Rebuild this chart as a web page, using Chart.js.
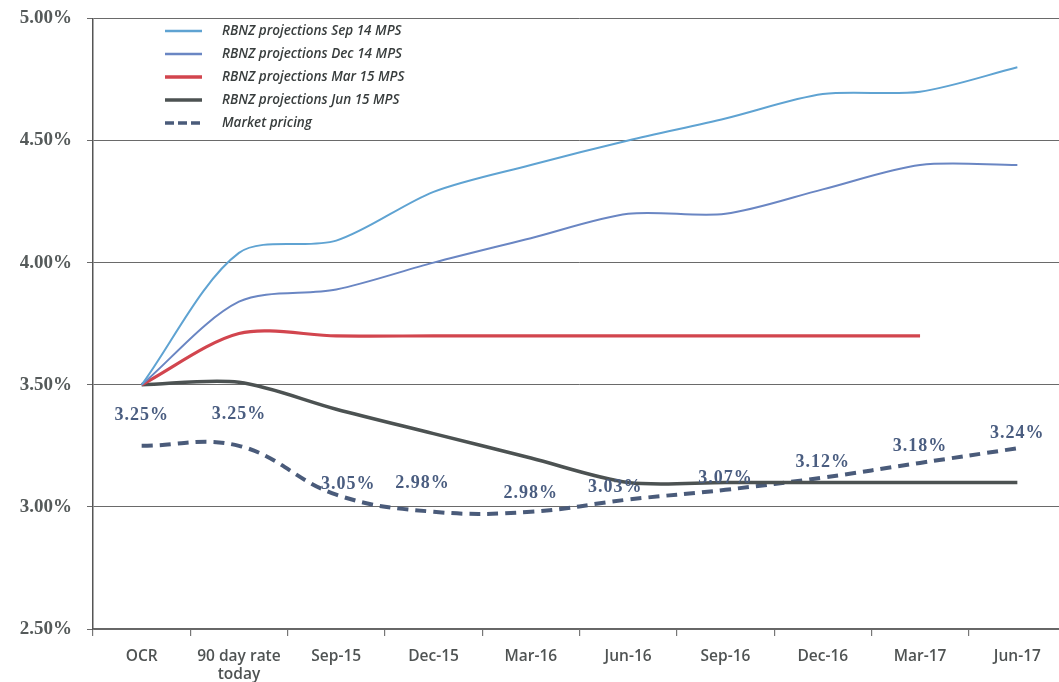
<!DOCTYPE html>
<html>
<head>
    <title>RBNZ projections vs market pricing</title>
    <style>
        html, body { margin: 0; padding: 0; background: #fff; overflow: hidden; }
        #wrap { position: relative; width: 1072px; height: 690px; margin-top: -8px; }
    </style>
    <script src="https://cdn.jsdelivr.net/npm/chart.js"></script>
</head>
<body>
    <div id="wrap"><canvas id="chart"></canvas></div>

    <script>
        // categories along the bottom
        var categories = ['OCR', ['90 day rate', 'today'], 'Sep-15', 'Dec-15', 'Mar-16', 'Jun-16', 'Sep-16', 'Dec-16', 'Mar-17', 'Jun-17'];

        // series values (%)
        var sep14 = [3.50, 4.04, 4.09, 4.29, 4.40, 4.50, 4.59, 4.69, 4.70, 4.80];
        var dec14 = [3.50, 3.84, 3.89, 4.00, 4.10, 4.20, 4.20, 4.30, 4.40, 4.40];
        var mar15 = [3.50, 3.71, 3.70, 3.70, 3.70, 3.70, 3.70, 3.70, 3.70, null];
        var jun15 = [3.50, 3.51, 3.40, 3.30, 3.20, 3.10, 3.10, 3.10, 3.10, 3.10];
        var market = [3.25, 3.25, 3.05, 2.98, 2.98, 3.03, 3.07, 3.12, 3.18, 3.24];

        var seriesNames = ['RBNZ projections Sep 14 MPS', 'RBNZ projections Dec 14 MPS', 'RBNZ projections Mar 15 MPS', 'RBNZ projections Jun 15 MPS', 'Market pricing'];
        var yTicks = [2.5, 3.0, 3.5, 4.0, 4.5, 5.0];

        var colours = ['#5fa3d2', '#6a86c3', '#d2454e', '#4c5252', '#4a5b7a'];
        var widths = [2, 2, 3.2, 3.5, 4];

        // where each market label sits relative to its point (dx, dy) - layout only
        var labelShift = [[0, -30], [0, -31], [12, -10], [-11, -28], [0, -18], [-13, -12], [0, -11], [0, -15], [0, -17], [0, -15]];

        function mkSet(i, data, dashed, tension) {
            return {
                label: seriesNames[i],
                data: data,
                borderColor: colours[i],
                backgroundColor: colours[i],
                borderWidth: widths[i],
                borderDash: dashed ? [11, 7] : [],
                pointRadius: 0,
                fill: false,
                tension: tension,
                spanGaps: false
            };
        }

        var marketLabels = {
            id: 'marketLabels',
            afterDatasetsDraw: function(chart) {
                var ctx = chart.ctx;
                var meta = chart.getDatasetMeta(4);
                ctx.save();
                ctx.font = 'bold 18px "Liberation Serif"';
                ctx.letterSpacing = '1px';
                ctx.fillStyle = '#4a5d80';
                ctx.textAlign = 'center';
                ctx.textBaseline = 'middle';
                meta.data.forEach(function(pt, i) {
                    ctx.fillText(market[i].toFixed(2) + '%', pt.x + labelShift[i][0], pt.y + labelShift[i][1]);
                });
                ctx.restore();
            }
        };

        var legendBox = {
            id: 'legendBox',
            afterDraw: function(chart) {
                var ctx = chart.ctx;
                ctx.save();
                ctx.font = 'italic 600 13.5px "Open Sans"';
                ctx.fillStyle = '#383d3d';
                ctx.textBaseline = 'middle';
                for (var i = 0; i < seriesNames.length; i++) {
                    var y = 39 + i * 23;   // +8 for the canvas shift
                    ctx.strokeStyle = colours[i];
                    ctx.lineWidth = i < 2 ? 2.5 : 3.5;
                    if (i == 4) ctx.setLineDash([9, 4]); else ctx.setLineDash([]);
                    ctx.beginPath();
                    ctx.moveTo(165, y);
                    ctx.lineTo(202, y);
                    ctx.stroke();
                    ctx.fillText(seriesNames[i], 222, y);
                }
                ctx.restore();
            }
        };

        new Chart(document.getElementById('chart'), {
            type: 'line',
            data: {
                labels: categories,
                datasets: [mkSet(0, sep14, false, 0.3), mkSet(1, dec14, false, 0.3), mkSet(2, mar15, false, 0.3), mkSet(3, jun15, false, 0.3), mkSet(4, market, true, 0.4)]
            },
            options: {
                responsive: true,
                maintainAspectRatio: false,
                animation: false,
                layout: { padding: { top: 10, right: 6, left: 0, bottom: 0 } },
                plugins: {
                    legend: { display: false },
                    tooltip: { enabled: false }
                },
                scales: {
                    x: {
                        offset: true,
                        afterFit: function(scale) { scale.height = 53; },
                        grid: { offset: true, drawOnChartArea: false, tickLength: 7, color: '#777', lineWidth: 1.2 },
                        border: { color: '#666', width: 1.2 },
                        ticks: {
                            color: '#4f5353',
                            padding: 11,
                            maxRotation: 0,
                            autoSkip: false,
                            font: { family: '"Open Sans"', size: 15.5, weight: '600', lineHeight: 1.2 }
                        }
                    },
                    y: {
                        min: 2.5,
                        max: 5.0,
                        afterFit: function(scale) { scale.width = 93; },
                        afterBuildTicks: function(scale) {
                            scale.ticks = yTicks.map(function(v) { return { value: v }; });
                        },
                        grid: { color: '#6a6a6a', lineWidth: 1, tickLength: 6 },
                        border: { color: '#555', width: 1.5 },
                        ticks: {
                            color: '#555a5a',
                            padding: 15,
                            font: { family: '"Liberation Serif"', size: 19, weight: 'bold' },
                            callback: function(v) { return v.toFixed(2) + '%'; }
                        }
                    }
                }
            },
            plugins: [marketLabels, legendBox]
        });
    </script>
</body>
</html>
